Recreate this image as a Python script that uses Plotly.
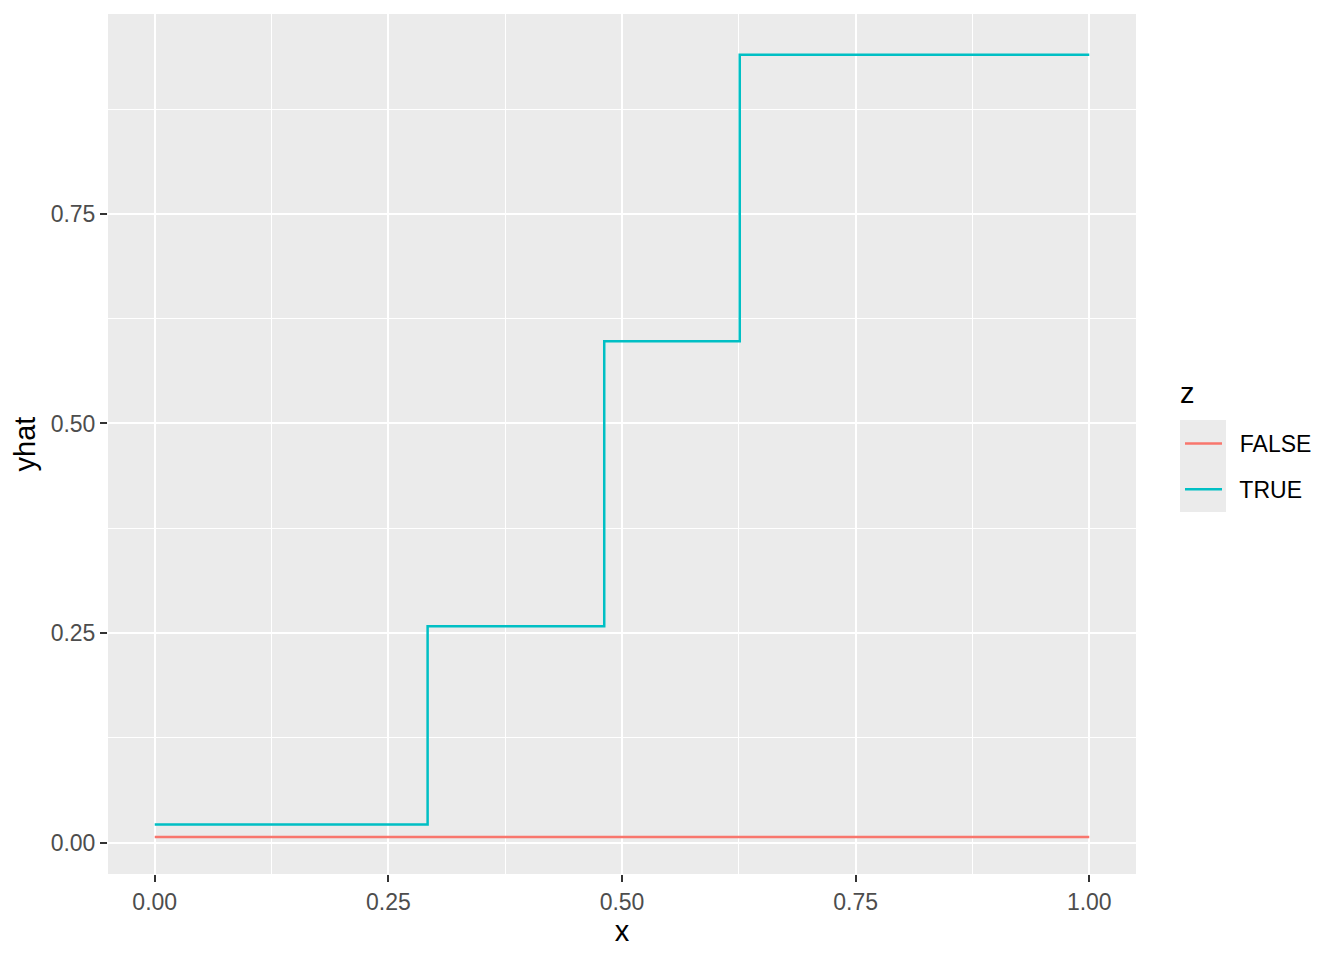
import plotly.graph_objects as go

# Data
false_x = [0.0, 1.0]
false_y = [0.0067, 0.0067]
true_x = [0.0, 0.292, 0.481, 0.626, 1.0]
true_y = [0.0215, 0.258, 0.598, 0.940, 0.940]
x_ticks = [0.0, 0.25, 0.5, 0.75, 1.0]
x_tick_labels = ["0.00", "0.25", "0.50", "0.75", "1.00"]
y_ticks = [0.0, 0.25, 0.5, 0.75]
y_tick_labels = ["0.00", "0.25", "0.50", "0.75"]
legend_title = "z"

FONT = "Liberation Sans"
TICK_SIZE = 23
TITLE_SIZE = 29

fig = go.Figure()
fig.add_trace(go.Scatter(x=false_x, y=false_y, mode="lines", line_shape="hv",
                         line=dict(color="#F8766D", width=2.5), name="  FALSE",
                         legendgroup="a"))
fig.add_trace(go.Scatter(x=true_x, y=true_y, mode="lines", line_shape="hv",
                         line=dict(color="#00BFC4", width=2.5), name="  TRUE",
                         legendgroup="b"))

# page has an 8px body margin; compensate
OFF = 8
W, H = 1344 - OFF, 960 - OFF
ml, mr, mt, mb = 108 - OFF, 208, 14 - OFF, 86
pw, ph = W - ml - mr, H - mt - mb

def px(xs):  # screen x -> paper
    return (xs - OFF - ml) / pw

def py(ys):  # screen y -> paper
    return (OFF + H - mb - ys) / ph

fig.add_shape(type="rect", xref="paper", yref="paper",
              x0=px(1180), x1=px(1226), y0=py(512), y1=py(420),
              fillcolor="#EBEBEB", line=dict(width=0), layer="below")

fig.add_annotation(text=legend_title, xref="paper", yref="paper",
                   x=px(1178), y=py(393), xanchor="left", yanchor="middle",
                   showarrow=False,
                   font=dict(family=FONT, size=TITLE_SIZE, color="black"))

axis_common = dict(
    showgrid=True, gridcolor="white", gridwidth=2.2,
    zeroline=False, showline=False,
    ticks="outside", ticklen=7, tickwidth=2.2, tickcolor="#333333",
    tickfont=dict(family=FONT, size=TICK_SIZE, color="#4D4D4D"),
)

fig.update_layout(
    width=W, height=H,
    margin=dict(l=ml, r=mr, t=mt, b=mb),
    paper_bgcolor="white", plot_bgcolor="#EBEBEB",
    font=dict(family=FONT, size=TICK_SIZE),
    xaxis=dict(range=[-0.05, 1.05], tickvals=x_ticks, ticktext=x_tick_labels,
               minor=dict(tickvals=[0.125, 0.375, 0.625, 0.875], gridcolor="white",
                          gridwidth=1.1, ticks=""),
               title=dict(text="x", font=dict(family=FONT, size=TITLE_SIZE, color="black"),
                          standoff=4),
               **axis_common),
    yaxis=dict(range=[-0.0375, 0.9885], tickvals=y_ticks, ticktext=y_tick_labels,
               minor=dict(tickvals=[0.125, 0.375, 0.625, 0.875], gridcolor="white",
                          gridwidth=1.1, ticks=""),
               title=dict(text="yhat", font=dict(family=FONT, size=TITLE_SIZE, color="black"),
                          standoff=6),
               **axis_common),
    legend=dict(
        x=px(1180), xanchor="left", y=py(422), yanchor="top",
        bgcolor="rgba(0,0,0,0)",
        font=dict(family=FONT, size=TICK_SIZE, color="black"),
        traceorder="grouped", tracegroupgap=13, itemwidth=37,
    ),
)

fig.write_html("out.html")
